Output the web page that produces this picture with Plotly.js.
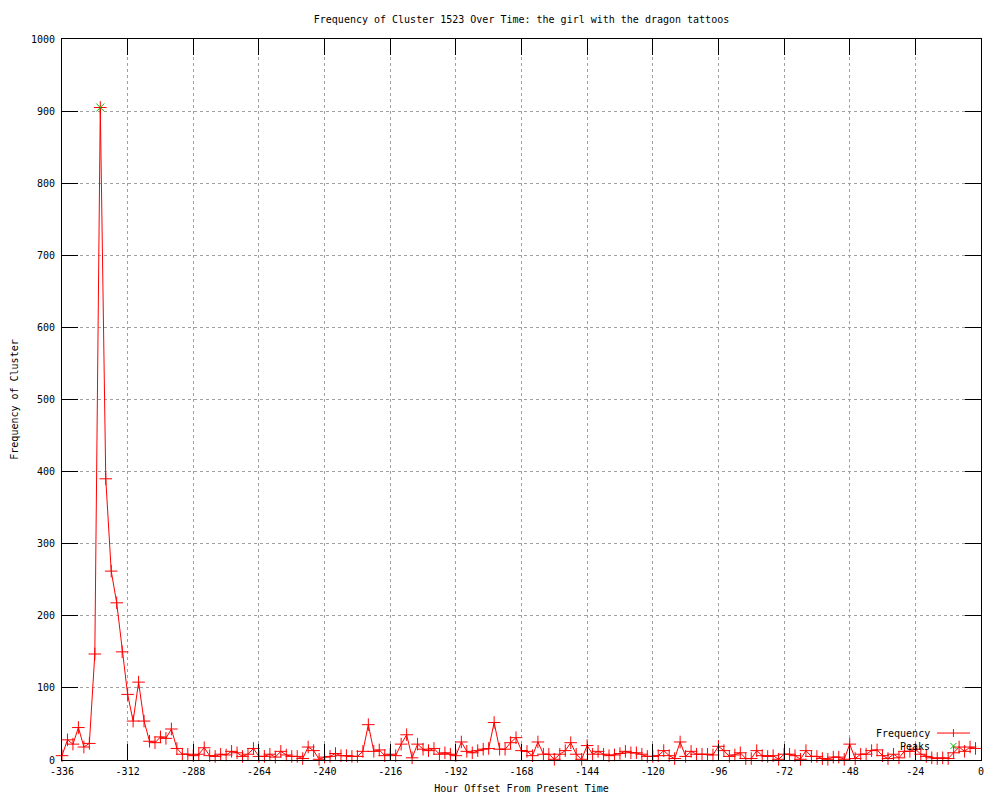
<!DOCTYPE html>
<html>
<head>
<meta charset="utf-8">
<script src="https://cdn.plot.ly/plotly-3.0.1.min.js"></script>
<style>html,body{margin:0;padding:0;background:#fff;}#chart{width:1000px;height:800px;}</style>
</head>
<body>
<div id="chart"></div>
<script>
// Hour offsets (every 2 hours)
const hours = [
-336,-334,-332,-330,-328,-326,-324,-322,-320,-318,-316,-314,-312,-310,-308,-306,-304,-302,-300,-298,
-296,-294,-292,-290,-288,-286,-284,-282,-280,-278,-276,-274,-272,-270,-268,-266,-264,-262,-260,-258,
-256,-254,-252,-250,-248,-246,-244,-242,-240,-238,-236,-234,-232,-230,-228,-226,-224,-222,-220,-218,
-216,-214,-212,-210,-208,-206,-204,-202,-200,-198,-196,-194,-192,-190,-188,-186,-184,-182,-180,-178,
-176,-174,-172,-170,-168,-166,-164,-162,-160,-158,-156,-154,-152,-150,-148,-146,-144,-142,-140,-138,
-136,-134,-132,-130,-128,-126,-124,-122,-120,-118,-116,-114,-112,-110,-108,-106,-104,-102,-100,-98,
-96,-94,-92,-90,-88,-86,-84,-82,-80,-78,-76,-74,-72,-70,-68,-66,-64,-62,-60,-58,
-56,-54,-52,-50,-48,-46,-44,-42,-40,-38,-36,-34,-32,-30,-28,-26,-24,-22,-20,-18,
-16,-14,-12,-10,-8,-6,-4,-2
];
const frequency = [
6,28,22,45,18,23,147,905,390,262,218,150,91,54,108,54,26,24,32,30,
43,16,8,8,6,8,17,6,5,8,7,12,10,5,8,16,5,5,8,4,
12,7,5,5,2,18,13,1,4,5,9,6,6,5,5,12,49,12,14,6,
8,6,22,35,3,22,15,13,16,8,10,8,6,25,12,10,13,15,16,52,
15,15,24,31,13,12,6,25,8,8,1,8,13,24,8,1,20,8,12,8,
6,7,9,12,10,10,8,5,5,6,13,6,2,25,5,12,8,8,8,7,
19,13,5,7,10,2,2,13,6,5,6,1,8,8,6,1,13,5,5,2,
1,4,4,1,22,2,8,8,13,14,6,2,8,3,12,12,15,8,5,3,
2,3,2,10,18,12,18,16
];
const peakHours = [-322];
const peakValues = [905];

const xTickVals = [-336,-312,-288,-264,-240,-216,-192,-168,-144,-120,-96,-72,-48,-24,0];
const xTickLabels = ["-336","-312","-288","-264","-240","-216","-192","-168","-144","-120","-96","-72","-48","-24","0"];
const yTickVals = [0,100,200,300,400,500,600,700,800,900,1000];
const yTickLabels = ["0","100","200","300","400","500","600","700","800","900","1000"];

const FONT = "DejaVu Sans Mono, Liberation Mono, monospace";
const RED = "#ff0000", GREEN = "#00c000";

const traces = [
  {
    x: hours, y: frequency, name: "Frequency", type: "scatter", mode: "lines+markers",
    line: {color: RED, width: 1},
    marker: {symbol: "cross-thin-open", size: 9, color: RED, line: {color: RED, width: 1}},
    hoverinfo: "x+y", cliponaxis: false
  },
  {
    x: peakHours, y: peakValues, name: "Peaks", type: "scatter", mode: "markers",
    marker: {symbol: "x-thin-open", size: 8, color: GREEN, line: {color: GREEN, width: 1}},
    cliponaxis: false
  }
];

// legend geometry in paper coords (gnuplot style: text left, sample right)
const pxX = 1/919, pxY = 1/721;
const lgTextX = 0.9465, lgSampleX0 = 0.9521, lgSampleX1 = 0.9880, lgSampleMid = 0.970;
const lgY1 = 0.0374, lgY2 = 0.0194;
const m = 4;

const axisCommon = {
  showline: true, linecolor: "#000", linewidth: 1, mirror: "ticks",
  ticks: "inside", ticklen: 16, tickwidth: 1, tickcolor: "#000",
  showgrid: true, gridcolor: "#a0a0a0", gridwidth: 1, griddash: "dot",
  zeroline: false, tickmode: "array",
  tickfont: {family: FONT, size: 10, color: "#000"}
};

const layout = {
  width: 1000, height: 800,
  margin: {l: 62, r: 19, t: 39, b: 40, pad: 0},
  paper_bgcolor: "#fff", plot_bgcolor: "#fff",
  showlegend: false,
  font: {family: FONT, size: 10, color: "#000"},
  title: {text: "Frequency of Cluster 1523 Over Time: the girl with the dragon tattoos",
          font: {family: FONT, size: 10, color: "#000"},
          x: 0.5, xref: "paper", y: 1 - 19/800, yref: "container", yanchor: "middle"},
  xaxis: Object.assign({}, axisCommon, {
    range: [-336, 0], tickvals: xTickVals, ticktext: xTickLabels, ticklabelstandoff: 2,
    title: {text: "Hour Offset From Present Time", font: {family: FONT, size: 10, color: "#000"}, standoff: 8}
  }),
  yaxis: Object.assign({}, axisCommon, {
    range: [0, 1000], tickvals: yTickVals, ticktext: yTickLabels, ticklabelstandoff: 4,
    title: {text: "Frequency of Cluster", font: {family: FONT, size: 10, color: "#000"}, standoff: 10}
  }),
  annotations: [
    {text: "Frequency", xref: "paper", yref: "paper", x: lgTextX, y: lgY1, xanchor: "right", yanchor: "middle", showarrow: false, font: {family: FONT, size: 10, color: "#000"}},
    {text: "Peaks", xref: "paper", yref: "paper", x: lgTextX, y: lgY2, xanchor: "right", yanchor: "middle", showarrow: false, font: {family: FONT, size: 10, color: "#000"}}
  ],
  shapes: [
    {type: "line", xref: "paper", yref: "paper", x0: lgSampleX0, x1: lgSampleX1, y0: lgY1, y1: lgY1, line: {color: RED, width: 1}},
    {type: "line", xref: "paper", yref: "paper", x0: lgSampleMid, x1: lgSampleMid, y0: lgY1 - m*pxY, y1: lgY1 + m*pxY, line: {color: RED, width: 1}},
    {type: "line", xref: "paper", yref: "paper", x0: lgSampleMid - 3*pxX, x1: lgSampleMid + 3*pxX, y0: lgY2 - 3*pxY, y1: lgY2 + 3*pxY, line: {color: GREEN, width: 1}},
    {type: "line", xref: "paper", yref: "paper", x0: lgSampleMid - 3*pxX, x1: lgSampleMid + 3*pxX, y0: lgY2 + 3*pxY, y1: lgY2 - 3*pxY, line: {color: GREEN, width: 1}}
  ]
};

Plotly.newPlot("chart", traces, layout, {displayModeBar: false, staticPlot: true});
</script>
</body>
</html>
